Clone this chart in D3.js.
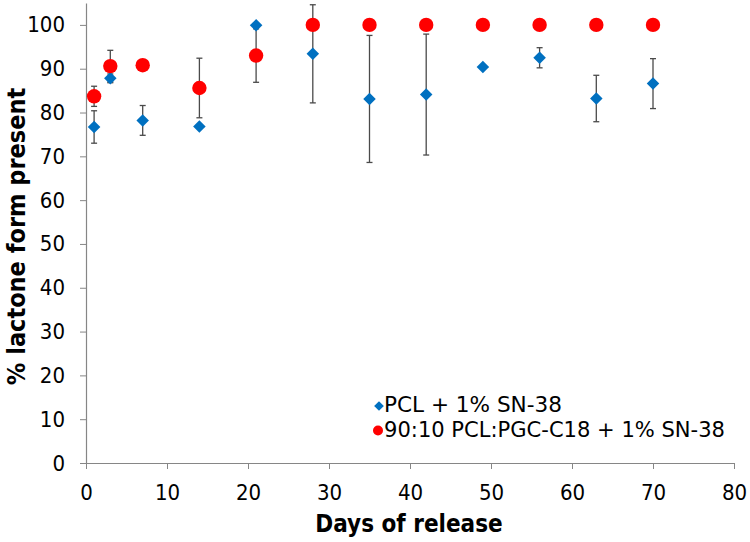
<!DOCTYPE html>
<html><head><meta charset="utf-8">
<script src="https://cdn.jsdelivr.net/npm/d3@7"></script>
<style>body{margin:0;background:#fff}svg{display:block}text{font-family:"DejaVu Sans Condensed","DejaVu Sans",Verdana,sans-serif;font-stretch:condensed}</style>
</head><body><svg id="c" width="750" height="542"></svg>
<script>
const days = [1, 3, 7, 14, 21, 28, 35, 42, 49, 56, 63, 70];
const pclValues = [76.7, 87.8, 78.2, 76.8, 99.9, 93.4, 83.1, 84.1, 90.4, 92.5, 83.2, 86.6];
const pclErrors = [3.7, 1.0, 3.4, 0, 0, 11.2, 14.5, 13.8, 0, 2.3, 5.3, 5.7];
const blendValues = [83.7, 90.6, 90.8, 85.6, 93.0, 100, 100, 100, 100, 100, 100, 100];
const blendErrors = [2.3, 3.6, 0, 6.8, 6.1, 0, 0, 0, 0, 0, 0, 0];
const seriesNames = ["PCL + 1% SN-38", "90:10 PCL:PGC-C18 + 1% SN-38"];
const xTicks = [0, 10, 20, 30, 40, 50, 60, 70, 80];
const yTicks = [0, 10, 20, 30, 40, 50, 60, 70, 80, 90, 100];

const svg = d3.select("#c");
const x = d3.scaleLinear().domain([0, 80]).range([86, 734]);
const y = d3.scaleLinear().domain([0, 105]).range([463, 3]);
const axisColor = "#868686";
const FONT = '"DejaVu Sans Condensed","DejaVu Sans",Verdana,sans-serif';

const yAxis = svg.append("g").attr("transform", "translate(86,0)")
  .call(d3.axisLeft(y).tickValues(yTicks).tickSize(6).tickPadding(15).tickSizeOuter(0));
const xAxis = svg.append("g").attr("transform", "translate(0,463)")
  .call(d3.axisBottom(x).tickValues(xTicks).tickSize(6).tickPadding(15).tickSizeOuter(0));
[xAxis, yAxis].forEach(g => {
  g.select(".domain").attr("stroke", axisColor).attr("stroke-width", 1.2);
  g.selectAll(".tick line").attr("stroke", axisColor);
  g.selectAll(".tick text").attr("fill", "#000").style("font-size", "22px").style("font-family", FONT);
});

const series = [
  {vals: pclValues, errs: pclErrors},
  {vals: blendValues, errs: blendErrors}
];

// error bars
series.forEach(s => {
  const data = days.map((d, i) => ({d, v: s.vals[i], e: s.errs[i]})).filter(p => p.e > 0);
  const g = svg.append("g").attr("stroke", "#4a4a4a").attr("stroke-width", 1.3);
  data.forEach(p => {
    const px = x(p.d);
    g.append("line").attr("x1", px).attr("x2", px).attr("y1", y(p.v - p.e)).attr("y2", y(p.v + p.e));
    [p.v - p.e, p.v + p.e].forEach(v => g.append("line").attr("x1", px - 3).attr("x2", px + 3).attr("y1", y(v)).attr("y2", y(v)));
  });
});

const diamond = d3.symbol().type(d3.symbolDiamond2).size(100);
svg.append("g").selectAll("path").data(days.map((d, i) => [d, pclValues[i]])).join("path")
  .attr("d", diamond).attr("fill", "#0070C0")
  .attr("transform", p => `translate(${x(p[0])},${y(p[1])})`);
svg.append("g").selectAll("circle").data(days.map((d, i) => [d, blendValues[i]])).join("circle")
  .attr("cx", p => x(p[0])).attr("cy", p => y(p[1])).attr("r", 7.2).attr("fill", "#FF0000");

// legend
const leg = svg.append("g");
leg.append("path").attr("d", d3.symbol().type(d3.symbolDiamond2).size(60)).attr("fill", "#0070C0").attr("transform", "translate(379,406)");
leg.append("circle").attr("cx", 378).attr("cy", 430.5).attr("r", 5).attr("fill", "#FF0000");
leg.append("text").attr("x", 384).attr("y", 412).style("font-size", "22px")
  .attr("textLength", 178).attr("lengthAdjust", "spacingAndGlyphs").text(seriesNames[0]);
leg.append("text").attr("x", 384).attr("y", 437).style("font-size", "22px")
  .attr("textLength", 341).attr("lengthAdjust", "spacingAndGlyphs").text(seriesNames[1]);

// titles
svg.append("text").attr("x", 409).attr("y", 531.5).attr("text-anchor", "middle")
  .style("font-size", "24px").style("font-weight", "bold").text("Days of release");
svg.append("text").attr("transform", "translate(25,236.5) rotate(-90)").attr("text-anchor", "middle")
  .style("font-size", "25px").style("font-weight", "bold").text("% lactone form present");
</script></body></html>
